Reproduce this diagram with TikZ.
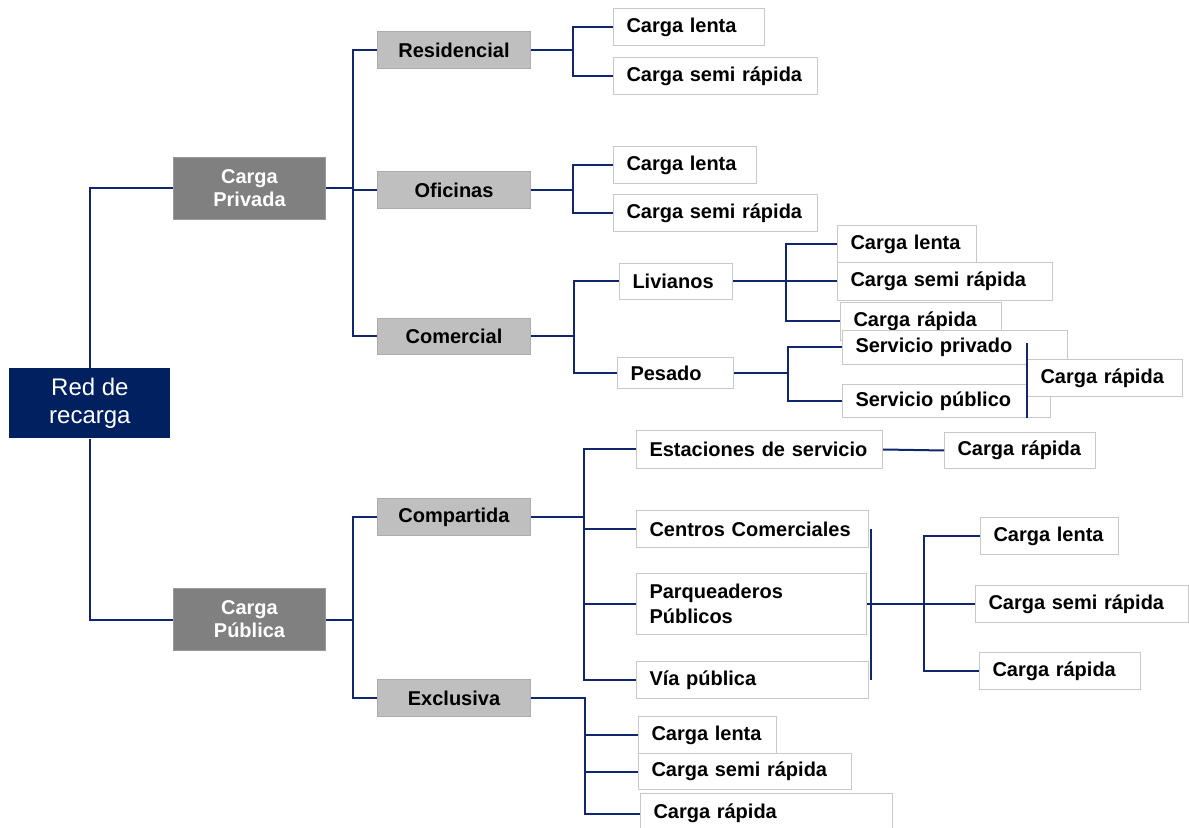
\documentclass[tikz,border=0pt]{standalone}
\usepackage{fontspec}
\setmainfont{Liberation Sans}

\definecolor{navy}{RGB}{0,32,96}
\definecolor{linecol}{RGB}{16,38,110}
\definecolor{boxline}{RGB}{200,200,200}

\tikzset{
  link/.style={draw=linecol, line width=1pt},
  boxbase/.style={anchor=north west, inner sep=0pt, font=\fontsize{10}{12.5}\selectfont\bfseries},
  leafbox/.style={boxbase, draw=boxline, fill=white, line width=0.5pt, inner xsep=6.5pt, align=left},
  catbox/.style={boxbase, draw=gray!65, fill=gray!50, line width=0.5pt, align=center,
    minimum width=76.5pt, minimum height=18.5pt},
  groupbox/.style={boxbase, draw=gray!80, fill=gray, text=white, line width=0.5pt, align=center,
    font=\fontsize{10}{11.5}\selectfont\bfseries, minimum width=76pt, minimum height=31pt},
  rootbox/.style={anchor=north west, inner sep=0pt, fill=navy, text=white, align=center,
    font=\fontsize{12}{14}\selectfont, minimum width=80.5pt, minimum height=35pt}
}

\begin{document}
\begin{tikzpicture}[x=0.5pt, y=-0.5pt]
  \useasboundingbox (0,0) rectangle (1189,828);

  % Root and groups
  \node[rootbox] (root) at (9,368) {Red de\\recarga};
  \node[groupbox] (priv) at (173,157) {Carga\\Privada};
  \node[groupbox] (pub) at (173,588) {Carga\\Pública};

  % Categories
  \node[catbox] (resid) at (377,31) {Residencial};
  \node[catbox] (ofic) at (377,171) {Oficinas};
  \node[catbox, minimum height=18pt] (comer) at (377,318) {Comercial};
  \node[catbox] (compa) at (377,498) {Compartida};
  \node[catbox] (exclu) at (377,679) {Exclusiva};

  % Residencial / Oficinas
  \node[leafbox, text width=62.5pt, minimum height=18.5pt] (rl) at (613,8) {Carga lenta};
  \node[leafbox, text width=89pt, minimum height=18.5pt] (rs) at (613,57) {Carga semi rápida};
  \node[leafbox, text width=58.5pt, minimum height=18.5pt] (ol) at (613,146) {Carga lenta};
  \node[leafbox, text width=89pt, minimum height=18.5pt] (os) at (613,194) {Carga semi rápida};

  % Comercial
  \node[leafbox, text width=43.5pt, minimum height=18pt] (liv) at (619,263) {Livianos};
  \node[leafbox, text width=45pt, minimum height=15.5pt] (pes) at (617,357) {Pesado};
  \node[leafbox, text width=56.5pt, minimum height=18.5pt] (ll) at (837,225) {Carga lenta};
  \node[leafbox, text width=94.5pt, minimum height=19pt] (ls) at (837,262) {Carga semi rápida};
  \node[leafbox, text width=67.5pt, minimum height=19pt] (lr) at (840,302) {Carga rápida};
  \node[leafbox, text width=99.5pt, minimum height=17pt] (sp) at (842,330) {Servicio privado};
  \node[leafbox, text width=91pt, minimum height=16.5pt] (spub) at (842,384) {Servicio público};
  \node[leafbox, text width=64.5pt, minimum height=18.5pt] (cr) at (1027,359) {Carga rápida};

  % Compartida
  \node[leafbox, text width=110pt, minimum height=19pt] (est) at (636,430) {Estaciones de servicio};
  \node[leafbox, text width=62.5pt, minimum height=18pt] (estc) at (944,432) {Carga rápida};
  \node[leafbox, text width=103pt, minimum height=18.5pt] (cc) at (636,510) {Centros Comerciales};
  \node[leafbox, text width=102pt, minimum height=30.5pt] (parq) at (636,573) {Parqueaderos\\Públicos};
  \node[leafbox, text width=103pt, minimum height=18.5pt] (via) at (636,661) {Vía pública};
  \node[leafbox, text width=56pt, minimum height=18.5pt] (ccl) at (980,517) {Carga lenta};
  \node[leafbox, text width=93.5pt, minimum height=18.5pt] (ccs) at (975,585) {Carga semi rápida};
  \node[leafbox, text width=67.5pt, minimum height=18.5pt] (ccr) at (979,652) {Carga rápida};

  % Exclusiva
  \node[leafbox, text width=56pt, minimum height=18.5pt] (el) at (638,716) {Carga lenta};
  \node[leafbox, text width=93.5pt, minimum height=18pt] (es) at (638,753) {Carga semi rápida};
  \node[leafbox, text width=113pt, minimum height=20pt] (er) at (640,793) {Carga rápida};

  % Connectors
  \draw[link] (root.north) |- (priv.west);
  \draw[link] (root.south) |- (pub.west);

  \draw[link] (priv.east) -- ++(27,0) |- (resid.west);
  \draw[link] (priv.east) -- ++(27,0) |- (ofic.west);
  \draw[link] (priv.east) -- ++(27,0) |- (comer.west);
  \draw[link] (pub.east) -- ++(27,0) |- (compa.west);
  \draw[link] (pub.east) -- ++(27,0) |- (exclu.west);

  \draw[link] (resid.east) -- ++(42,0) |- (rl.west);
  \draw[link] (resid.east) -- ++(42,0) |- (rs.west);
  \draw[link] (ofic.east) -- ++(42,0) |- (ol.west);
  \draw[link] (ofic.east) -- ++(42,0) |- (os.west);

  \draw[link] (comer.east) -- ++(43,0) |- (liv.west);
  \draw[link] (comer.east) -- ++(43,0) |- (pes.west);
  \draw[link] (liv.east) -- ++(53,0) |- (ll.west);
  \draw[link] (liv.east) -- ++(53,0) |- (ls.west);
  \draw[link] (liv.east) -- ++(53,0) |- (lr.west);
  \draw[link] (pes.east) -- ++(54,0) |- (sp.west);
  \draw[link] (pes.east) -- ++(54,0) |- (spub.west);
  \draw[link] (cr.west) ++(0,-35) -- ++(0,75);

  \draw[link] (compa.east) -- ++(53,0) |- (est.west);
  \draw[link] (compa.east) -- ++(53,0) |- (cc.west);
  \draw[link] (compa.east) -- ++(53,0) |- (parq.west);
  \draw[link] (compa.east) -- ++(53,0) |- (via.west);
  \draw[link] (est.east) -- (estc.west);
  \draw[link] ([xshift=1pt]cc.east) -- ([xshift=1pt]via.east);
  \draw[link] (parq.east) -- (ccs.west);
  \draw[link] (parq.east) -- ++(57,0) |- (ccl.west);
  \draw[link] (parq.east) -- ++(57,0) |- (ccr.west);

  \draw[link] (exclu.east) -- ++(54,0) |- (el.west);
  \draw[link] (exclu.east) -- ++(54,0) |- (es.west);
  \draw[link] (exclu.east) -- ++(54,0) |- (er.west);
\end{tikzpicture}
\end{document}
